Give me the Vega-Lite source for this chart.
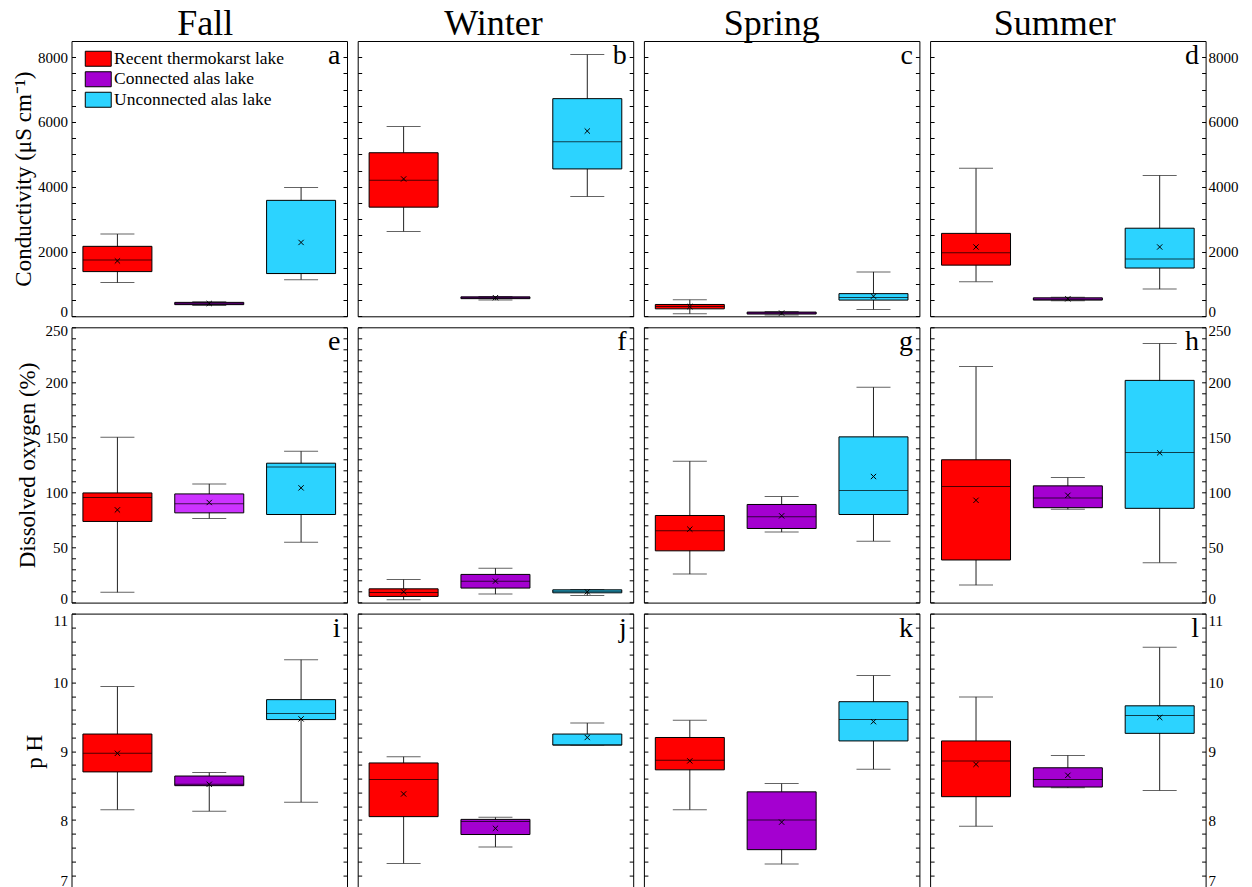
{
  "$schema": "https://vega.github.io/schema/vega-lite/v6.json",
  "padding": {"left": 11.5, "top": 5, "right": 0, "bottom": 0},
  "background": "white",
  "data": {"values": [
    {"s":"Fall","v":"cond","type":"Recent thermokarst lake","min":1040,"q1":1380,"med":1740,"q3":2160,"max":2540,"mean":1710},
    {"s":"Fall","v":"cond","type":"Connected alas lake","min":330,"q1":360,"med":390,"q3":430,"max":450,"mean":395},
    {"s":"Fall","v":"cond","type":"Unconnected alas lake","min":1130,"q1":1320,"med":1320,"q3":3580,"max":3980,"mean":2280},
    {"s":"Winter","v":"cond","type":"Recent thermokarst lake","min":2620,"q1":3370,"med":4200,"q3":5050,"max":5860,"mean":4240},
    {"s":"Winter","v":"cond","type":"Connected alas lake","min":500,"q1":545,"med":570,"q3":600,"max":610,"mean":575},
    {"s":"Winter","v":"cond","type":"Unconnected alas lake","min":3700,"q1":4550,"med":5390,"q3":6720,"max":8080,"mean":5720},
    {"s":"Spring","v":"cond","type":"Recent thermokarst lake","min":75,"q1":230,"med":300,"q3":365,"max":510,"mean":300},
    {"s":"Spring","v":"cond","type":"Connected alas lake","min":40,"q1":70,"med":100,"q3":130,"max":150,"mean":100},
    {"s":"Spring","v":"cond","type":"Unconnected alas lake","min":210,"q1":500,"med":580,"q3":700,"max":1370,"mean":620},
    {"s":"Summer","v":"cond","type":"Recent thermokarst lake","min":1070,"q1":1580,"med":1960,"q3":2560,"max":4570,"mean":2140},
    {"s":"Summer","v":"cond","type":"Connected alas lake","min":480,"q1":500,"med":530,"q3":570,"max":590,"mean":540},
    {"s":"Summer","v":"cond","type":"Unconnected alas lake","min":840,"q1":1490,"med":1770,"q3":2720,"max":4350,"mean":2140},
    {"s":"Fall","v":"do","type":"Recent thermokarst lake","min":9.3,"q1":73.7,"med":95.5,"q3":99.6,"max":150.2,"mean":84.2},
    {"s":"Fall","v":"do","type":"Connected alas lake","min":76.4,"q1":81.5,"med":89.7,"q3":98.7,"max":107.8,"mean":90.9},
    {"s":"Fall","v":"do","type":"Unconnected alas lake","min":54.9,"q1":80,"med":123.2,"q3":126.6,"max":137.5,"mean":104.2},
    {"s":"Winter","v":"do","type":"Recent thermokarst lake","min":2.5,"q1":5.6,"med":9.2,"q3":12.5,"max":21,"mean":9.8},
    {"s":"Winter","v":"do","type":"Connected alas lake","min":7.7,"q1":13.2,"med":19.5,"q3":25.6,"max":31.3,"mean":19.5},
    {"s":"Winter","v":"do","type":"Unconnected alas lake","min":6.5,"q1":8.9,"med":10.3,"q3":11.6,"max":11.8,"mean":9.8},
    {"s":"Spring","v":"do","type":"Recent thermokarst lake","min":25.9,"q1":47,"med":65.2,"q3":79.1,"max":128.4,"mean":66.7},
    {"s":"Spring","v":"do","type":"Connected alas lake","min":64,"q1":67.3,"med":77.9,"q3":89.1,"max":96.4,"mean":78.8},
    {"s":"Spring","v":"do","type":"Unconnected alas lake","min":55.8,"q1":80,"med":101.8,"q3":150.5,"max":195.6,"mean":114.5},
    {"s":"Summer","v":"do","type":"Recent thermokarst lake","min":15.9,"q1":38.7,"med":105.4,"q3":129.7,"max":214.3,"mean":92.9},
    {"s":"Summer","v":"do","type":"Connected alas lake","min":84.7,"q1":86.2,"med":95,"q3":106,"max":113.6,"mean":97.4},
    {"s":"Summer","v":"do","type":"Unconnected alas lake","min":36.3,"q1":85.6,"med":136.4,"q3":201.8,"max":235.3,"mean":136},
    {"s":"Fall","v":"ph","type":"Recent thermokarst lake","min":8.15,"q1":8.7,"med":8.97,"q3":9.25,"max":9.94,"mean":8.97},
    {"s":"Fall","v":"ph","type":"Connected alas lake","min":8.13,"q1":8.5,"med":8.52,"q3":8.64,"max":8.69,"mean":8.52},
    {"s":"Fall","v":"ph","type":"Unconnected alas lake","min":8.26,"q1":9.46,"med":9.55,"q3":9.75,"max":10.33,"mean":9.47},
    {"s":"Winter","v":"ph","type":"Recent thermokarst lake","min":7.37,"q1":8.05,"med":8.59,"q3":8.83,"max":8.92,"mean":8.38},
    {"s":"Winter","v":"ph","type":"Connected alas lake","min":7.61,"q1":7.79,"med":7.98,"q3":8.01,"max":8.04,"mean":7.88},
    {"s":"Winter","v":"ph","type":"Unconnected alas lake","min":9.09,"q1":9.09,"med":9.09,"q3":9.25,"max":9.41,"mean":9.2},
    {"s":"Spring","v":"ph","type":"Recent thermokarst lake","min":8.15,"q1":8.73,"med":8.87,"q3":9.2,"max":9.45,"mean":8.86},
    {"s":"Spring","v":"ph","type":"Connected alas lake","min":7.36,"q1":7.57,"med":8.0,"q3":8.41,"max":8.53,"mean":7.97},
    {"s":"Spring","v":"ph","type":"Unconnected alas lake","min":8.74,"q1":9.15,"med":9.46,"q3":9.72,"max":10.1,"mean":9.43},
    {"s":"Summer","v":"ph","type":"Recent thermokarst lake","min":7.91,"q1":8.34,"med":8.86,"q3":9.15,"max":9.79,"mean":8.81},
    {"s":"Summer","v":"ph","type":"Connected alas lake","min":8.47,"q1":8.48,"med":8.59,"q3":8.76,"max":8.94,"mean":8.65},
    {"s":"Summer","v":"ph","type":"Unconnected alas lake","min":8.43,"q1":9.26,"med":9.52,"q3":9.66,"max":10.51,"mean":9.49}
  ]},
  "columns": 4,
  "bounds": "flush",
  "spacing": {"row": 10.3, "column": 10.2},
  "resolve": {"legend": {"color": "independent"}},
  "concat": [
    {
      "width": 275.5, "height": 275.3,
      "title": {"text": "Fall", "dx": -4},
      "transform": [{"filter": "datum.s === 'Fall' && datum.v === 'cond'"}],
      "encoding": {"x": {"field": "type", "type": "nominal", "scale": {"domain": ["Recent thermokarst lake","Connected alas lake","Unconnected alas lake"], "paddingInner": 0, "paddingOuter": 0}, "axis": null}},
      "resolve": {"axis": {"y": "independent"}},
      "layer": [
        {"mark": {"type": "rule", "color": "#222"}, "encoding": {"y": {"field": "min", "type": "quantitative", "scale": {"domain": [0, 8500], "nice": false, "zero": false}, "axis": {"orient": "left", "values": [0,500,1000,1500,2000,2500,3000,3500,4000,4500,5000,5500,6000,6500,7000,7500,8000], "format": "d", "labelExpr": "datum.value % 2000 === 0 ? datum.label : ''", "title": "Conductivity (μS cm⁻¹)"}}, "y2": {"field": "max"}}},
        {"mark": {"type": "tick", "color": "#222", "size": 34, "thickness": 1}, "encoding": {"y": {"field": "min", "type": "quantitative", "axis": {"orient": "right", "values": [0,500,1000,1500,2000,2500,3000,3500,4000,4500,5000,5500,6000,6500,7000,7500,8000], "labels": false, "title": null}}}},
        {"mark": {"type": "tick", "color": "#222", "size": 34, "thickness": 1}, "encoding": {"y": {"field": "max", "type": "quantitative", "axis": null}}},
        {"mark": {"type": "bar", "size": 69, "stroke": "black", "strokeWidth": 1}, "encoding": {"y": {"field": "q1", "type": "quantitative", "axis": null}, "y2": {"field": "q3"}, "color": {"field": "type", "type": "nominal", "scale": {"domain": ["Recent thermokarst lake","Connected alas lake","Unconnected alas lake"], "range": ["#FF0000","#A400D0","#2CD3FF"]}, "legend": {"title": null, "orient": "none", "legendX": 18, "legendY": 9, "symbolType": "M-1.73,-1H1.73V1H-1.73Z", "symbolSize": 225, "symbolStrokeColor": "black", "symbolStrokeWidth": 1, "symbolOpacity": 1, "labelFont": "Liberation Serif", "labelFontSize": 17.5, "labelColor": "black", "labelOffset": 7, "rowPadding": 0.5, "labelLimit": 300, "padding": 0}}}},
        {"mark": {"type": "tick", "color": "black", "size": 69, "thickness": 1}, "encoding": {"y": {"field": "med", "type": "quantitative", "axis": null}}},
        {"mark": {"type": "point", "shape": "M-1,-1L1,1M-1,1L1,-1", "size": 28, "color": "black", "strokeWidth": 1, "filled": false, "opacity": 1}, "encoding": {"y": {"field": "mean", "type": "quantitative", "axis": null}}},
        {"data": {"values": [{"letter": "a"}]}, "mark": {"type": "text", "font": "Liberation Serif", "fontSize": 28, "align": "right", "baseline": "alphabetic", "dx": -6.5, "dy": 23, "color": "black"}, "encoding": {"x": {"datum": "Unconnected alas lake", "type": "nominal", "bandPosition": 1}, "y": {"datum": 8500, "type": "quantitative", "axis": null}, "text": {"field": "letter"}}}
      ]
    },
    {
      "width": 275.5, "height": 275.3,
      "title": {"text": "Winter", "dx": -2},
      "transform": [{"filter": "datum.s === 'Winter' && datum.v === 'cond'"}],
      "encoding": {"x": {"field": "type", "type": "nominal", "scale": {"domain": ["Recent thermokarst lake","Connected alas lake","Unconnected alas lake"], "paddingInner": 0, "paddingOuter": 0}, "axis": null}},
      "resolve": {"axis": {"y": "independent"}},
      "layer": [
        {"mark": {"type": "rule", "color": "#222"}, "encoding": {"y": {"field": "min", "type": "quantitative", "scale": {"domain": [0, 8500], "nice": false, "zero": false}, "axis": {"orient": "left", "values": [0,500,1000,1500,2000,2500,3000,3500,4000,4500,5000,5500,6000,6500,7000,7500,8000], "labels": false, "title": null}}, "y2": {"field": "max"}}},
        {"mark": {"type": "tick", "color": "#222", "size": 34, "thickness": 1}, "encoding": {"y": {"field": "min", "type": "quantitative", "axis": {"orient": "right", "values": [0,500,1000,1500,2000,2500,3000,3500,4000,4500,5000,5500,6000,6500,7000,7500,8000], "labels": false, "title": null}}}},
        {"mark": {"type": "tick", "color": "#222", "size": 34, "thickness": 1}, "encoding": {"y": {"field": "max", "type": "quantitative", "axis": null}}},
        {"mark": {"type": "bar", "size": 69, "stroke": "black", "strokeWidth": 1}, "encoding": {"y": {"field": "q1", "type": "quantitative", "axis": null}, "y2": {"field": "q3"}, "color": {"field": "type", "type": "nominal", "scale": {"domain": ["Recent thermokarst lake","Connected alas lake","Unconnected alas lake"], "range": ["#FF0000","#A400D0","#2CD3FF"]}, "legend": null}}},
        {"mark": {"type": "tick", "color": "black", "size": 69, "thickness": 1}, "encoding": {"y": {"field": "med", "type": "quantitative", "axis": null}}},
        {"mark": {"type": "point", "shape": "M-1,-1L1,1M-1,1L1,-1", "size": 28, "color": "black", "strokeWidth": 1, "filled": false, "opacity": 1}, "encoding": {"y": {"field": "mean", "type": "quantitative", "axis": null}}},
        {"data": {"values": [{"letter": "b"}]}, "mark": {"type": "text", "font": "Liberation Serif", "fontSize": 28, "align": "right", "baseline": "alphabetic", "dx": -6.5, "dy": 23, "color": "black"}, "encoding": {"x": {"datum": "Unconnected alas lake", "type": "nominal", "bandPosition": 1}, "y": {"datum": 8500, "type": "quantitative", "axis": null}, "text": {"field": "letter"}}}
      ]
    },
    {
      "width": 275.5, "height": 275.3,
      "title": {"text": "Spring", "dx": -10},
      "transform": [{"filter": "datum.s === 'Spring' && datum.v === 'cond'"}],
      "encoding": {"x": {"field": "type", "type": "nominal", "scale": {"domain": ["Recent thermokarst lake","Connected alas lake","Unconnected alas lake"], "paddingInner": 0, "paddingOuter": 0}, "axis": null}},
      "resolve": {"axis": {"y": "independent"}},
      "layer": [
        {"mark": {"type": "rule", "color": "#222"}, "encoding": {"y": {"field": "min", "type": "quantitative", "scale": {"domain": [0, 8500], "nice": false, "zero": false}, "axis": {"orient": "left", "values": [0,500,1000,1500,2000,2500,3000,3500,4000,4500,5000,5500,6000,6500,7000,7500,8000], "labels": false, "title": null}}, "y2": {"field": "max"}}},
        {"mark": {"type": "tick", "color": "#222", "size": 34, "thickness": 1}, "encoding": {"y": {"field": "min", "type": "quantitative", "axis": {"orient": "right", "values": [0,500,1000,1500,2000,2500,3000,3500,4000,4500,5000,5500,6000,6500,7000,7500,8000], "labels": false, "title": null}}}},
        {"mark": {"type": "tick", "color": "#222", "size": 34, "thickness": 1}, "encoding": {"y": {"field": "max", "type": "quantitative", "axis": null}}},
        {"mark": {"type": "bar", "size": 69, "stroke": "black", "strokeWidth": 1}, "encoding": {"y": {"field": "q1", "type": "quantitative", "axis": null}, "y2": {"field": "q3"}, "color": {"field": "type", "type": "nominal", "scale": {"domain": ["Recent thermokarst lake","Connected alas lake","Unconnected alas lake"], "range": ["#FF0000","#A400D0","#2CD3FF"]}, "legend": null}}},
        {"mark": {"type": "tick", "color": "black", "size": 69, "thickness": 1}, "encoding": {"y": {"field": "med", "type": "quantitative", "axis": null}}},
        {"mark": {"type": "point", "shape": "M-1,-1L1,1M-1,1L1,-1", "size": 28, "color": "black", "strokeWidth": 1, "filled": false, "opacity": 1}, "encoding": {"y": {"field": "mean", "type": "quantitative", "axis": null}}},
        {"data": {"values": [{"letter": "c"}]}, "mark": {"type": "text", "font": "Liberation Serif", "fontSize": 28, "align": "right", "baseline": "alphabetic", "dx": -6.5, "dy": 23, "color": "black"}, "encoding": {"x": {"datum": "Unconnected alas lake", "type": "nominal", "bandPosition": 1}, "y": {"datum": 8500, "type": "quantitative", "axis": null}, "text": {"field": "letter"}}}
      ]
    },
    {
      "width": 275.5, "height": 275.3,
      "title": {"text": "Summer", "dx": -13},
      "transform": [{"filter": "datum.s === 'Summer' && datum.v === 'cond'"}],
      "encoding": {"x": {"field": "type", "type": "nominal", "scale": {"domain": ["Recent thermokarst lake","Connected alas lake","Unconnected alas lake"], "paddingInner": 0, "paddingOuter": 0}, "axis": null}},
      "resolve": {"axis": {"y": "independent"}},
      "layer": [
        {"mark": {"type": "rule", "color": "#222"}, "encoding": {"y": {"field": "min", "type": "quantitative", "scale": {"domain": [0, 8500], "nice": false, "zero": false}, "axis": {"orient": "left", "values": [0,500,1000,1500,2000,2500,3000,3500,4000,4500,5000,5500,6000,6500,7000,7500,8000], "labels": false, "title": null}}, "y2": {"field": "max"}}},
        {"mark": {"type": "tick", "color": "#222", "size": 34, "thickness": 1}, "encoding": {"y": {"field": "min", "type": "quantitative", "axis": {"orient": "right", "values": [0,500,1000,1500,2000,2500,3000,3500,4000,4500,5000,5500,6000,6500,7000,7500,8000], "format": "d", "labelExpr": "datum.value % 2000 === 0 ? datum.label : ''", "labelPadding": 6.5, "title": null}}}},
        {"mark": {"type": "tick", "color": "#222", "size": 34, "thickness": 1}, "encoding": {"y": {"field": "max", "type": "quantitative", "axis": null}}},
        {"mark": {"type": "bar", "size": 69, "stroke": "black", "strokeWidth": 1}, "encoding": {"y": {"field": "q1", "type": "quantitative", "axis": null}, "y2": {"field": "q3"}, "color": {"field": "type", "type": "nominal", "scale": {"domain": ["Recent thermokarst lake","Connected alas lake","Unconnected alas lake"], "range": ["#FF0000","#A400D0","#2CD3FF"]}, "legend": null}}},
        {"mark": {"type": "tick", "color": "black", "size": 69, "thickness": 1}, "encoding": {"y": {"field": "med", "type": "quantitative", "axis": null}}},
        {"mark": {"type": "point", "shape": "M-1,-1L1,1M-1,1L1,-1", "size": 28, "color": "black", "strokeWidth": 1, "filled": false, "opacity": 1}, "encoding": {"y": {"field": "mean", "type": "quantitative", "axis": null}}},
        {"data": {"values": [{"letter": "d"}]}, "mark": {"type": "text", "font": "Liberation Serif", "fontSize": 28, "align": "right", "baseline": "alphabetic", "dx": -6.5, "dy": 23, "color": "black"}, "encoding": {"x": {"datum": "Unconnected alas lake", "type": "nominal", "bandPosition": 1}, "y": {"datum": 8500, "type": "quantitative", "axis": null}, "text": {"field": "letter"}}}
      ]
    },
    {
      "width": 275.5, "height": 275.3,
      "transform": [{"filter": "datum.s === 'Fall' && datum.v === 'do'"}],
      "encoding": {"x": {"field": "type", "type": "nominal", "scale": {"domain": ["Recent thermokarst lake","Connected alas lake","Unconnected alas lake"], "paddingInner": 0, "paddingOuter": 0}, "axis": null}},
      "resolve": {"axis": {"y": "independent"}},
      "layer": [
        {"mark": {"type": "rule", "color": "#222"}, "encoding": {"y": {"field": "min", "type": "quantitative", "scale": {"domain": [0, 250], "nice": false, "zero": false}, "axis": {"orient": "left", "values": [0,10,20,30,40,50,60,70,80,90,100,110,120,130,140,150,160,170,180,190,200,210,220,230,240,250], "format": "d", "labelExpr": "datum.value % 50 === 0 ? datum.label : ''", "title": "Dissolved oxygen (%)", "titlePadding": 6}}, "y2": {"field": "max"}}},
        {"mark": {"type": "tick", "color": "#222", "size": 34, "thickness": 1}, "encoding": {"y": {"field": "min", "type": "quantitative", "axis": {"orient": "right", "values": [0,10,20,30,40,50,60,70,80,90,100,110,120,130,140,150,160,170,180,190,200,210,220,230,240,250], "labels": false, "title": null}}}},
        {"mark": {"type": "tick", "color": "#222", "size": 34, "thickness": 1}, "encoding": {"y": {"field": "max", "type": "quantitative", "axis": null}}},
        {"mark": {"type": "bar", "size": 69, "stroke": "black", "strokeWidth": 1}, "encoding": {"y": {"field": "q1", "type": "quantitative", "axis": null}, "y2": {"field": "q3"}, "color": {"condition": {"test": "datum.type === 'Connected alas lake'", "value": "#CC33FF"}, "field": "type", "type": "nominal", "scale": {"domain": ["Recent thermokarst lake","Connected alas lake","Unconnected alas lake"], "range": ["#FF0000","#A400D0","#2CD3FF"]}, "legend": null}}},
        {"mark": {"type": "tick", "color": "black", "size": 69, "thickness": 1}, "encoding": {"y": {"field": "med", "type": "quantitative", "axis": null}}},
        {"mark": {"type": "point", "shape": "M-1,-1L1,1M-1,1L1,-1", "size": 28, "color": "black", "strokeWidth": 1, "filled": false, "opacity": 1}, "encoding": {"y": {"field": "mean", "type": "quantitative", "axis": null}}},
        {"data": {"values": [{"letter": "e"}]}, "mark": {"type": "text", "font": "Liberation Serif", "fontSize": 28, "align": "right", "baseline": "alphabetic", "dx": -6.5, "dy": 23, "color": "black"}, "encoding": {"x": {"datum": "Unconnected alas lake", "type": "nominal", "bandPosition": 1}, "y": {"datum": 250, "type": "quantitative", "axis": null}, "text": {"field": "letter"}}}
      ]
    },
    {
      "width": 275.5, "height": 275.3,
      "transform": [{"filter": "datum.s === 'Winter' && datum.v === 'do'"}],
      "encoding": {"x": {"field": "type", "type": "nominal", "scale": {"domain": ["Recent thermokarst lake","Connected alas lake","Unconnected alas lake"], "paddingInner": 0, "paddingOuter": 0}, "axis": null}},
      "resolve": {"axis": {"y": "independent"}},
      "layer": [
        {"mark": {"type": "rule", "color": "#222"}, "encoding": {"y": {"field": "min", "type": "quantitative", "scale": {"domain": [0, 250], "nice": false, "zero": false}, "axis": {"orient": "left", "values": [0,10,20,30,40,50,60,70,80,90,100,110,120,130,140,150,160,170,180,190,200,210,220,230,240,250], "labels": false, "title": null}}, "y2": {"field": "max"}}},
        {"mark": {"type": "tick", "color": "#222", "size": 34, "thickness": 1}, "encoding": {"y": {"field": "min", "type": "quantitative", "axis": {"orient": "right", "values": [0,10,20,30,40,50,60,70,80,90,100,110,120,130,140,150,160,170,180,190,200,210,220,230,240,250], "labels": false, "title": null}}}},
        {"mark": {"type": "tick", "color": "#222", "size": 34, "thickness": 1}, "encoding": {"y": {"field": "max", "type": "quantitative", "axis": null}}},
        {"mark": {"type": "bar", "size": 69, "stroke": "black", "strokeWidth": 1}, "encoding": {"y": {"field": "q1", "type": "quantitative", "axis": null}, "y2": {"field": "q3"}, "color": {"field": "type", "type": "nominal", "scale": {"domain": ["Recent thermokarst lake","Connected alas lake","Unconnected alas lake"], "range": ["#FF0000","#A400D0","#2CD3FF"]}, "legend": null}}},
        {"mark": {"type": "tick", "color": "black", "size": 69, "thickness": 1}, "encoding": {"y": {"field": "med", "type": "quantitative", "axis": null}}},
        {"mark": {"type": "point", "shape": "M-1,-1L1,1M-1,1L1,-1", "size": 28, "color": "black", "strokeWidth": 1, "filled": false, "opacity": 1}, "encoding": {"y": {"field": "mean", "type": "quantitative", "axis": null}}},
        {"data": {"values": [{"letter": "f"}]}, "mark": {"type": "text", "font": "Liberation Serif", "fontSize": 28, "align": "right", "baseline": "alphabetic", "dx": -6.5, "dy": 23, "color": "black"}, "encoding": {"x": {"datum": "Unconnected alas lake", "type": "nominal", "bandPosition": 1}, "y": {"datum": 250, "type": "quantitative", "axis": null}, "text": {"field": "letter"}}}
      ]
    },
    {
      "width": 275.5, "height": 275.3,
      "transform": [{"filter": "datum.s === 'Spring' && datum.v === 'do'"}],
      "encoding": {"x": {"field": "type", "type": "nominal", "scale": {"domain": ["Recent thermokarst lake","Connected alas lake","Unconnected alas lake"], "paddingInner": 0, "paddingOuter": 0}, "axis": null}},
      "resolve": {"axis": {"y": "independent"}},
      "layer": [
        {"mark": {"type": "rule", "color": "#222"}, "encoding": {"y": {"field": "min", "type": "quantitative", "scale": {"domain": [0, 250], "nice": false, "zero": false}, "axis": {"orient": "left", "values": [0,10,20,30,40,50,60,70,80,90,100,110,120,130,140,150,160,170,180,190,200,210,220,230,240,250], "labels": false, "title": null}}, "y2": {"field": "max"}}},
        {"mark": {"type": "tick", "color": "#222", "size": 34, "thickness": 1}, "encoding": {"y": {"field": "min", "type": "quantitative", "axis": {"orient": "right", "values": [0,10,20,30,40,50,60,70,80,90,100,110,120,130,140,150,160,170,180,190,200,210,220,230,240,250], "labels": false, "title": null}}}},
        {"mark": {"type": "tick", "color": "#222", "size": 34, "thickness": 1}, "encoding": {"y": {"field": "max", "type": "quantitative", "axis": null}}},
        {"mark": {"type": "bar", "size": 69, "stroke": "black", "strokeWidth": 1}, "encoding": {"y": {"field": "q1", "type": "quantitative", "axis": null}, "y2": {"field": "q3"}, "color": {"field": "type", "type": "nominal", "scale": {"domain": ["Recent thermokarst lake","Connected alas lake","Unconnected alas lake"], "range": ["#FF0000","#A400D0","#2CD3FF"]}, "legend": null}}},
        {"mark": {"type": "tick", "color": "black", "size": 69, "thickness": 1}, "encoding": {"y": {"field": "med", "type": "quantitative", "axis": null}}},
        {"mark": {"type": "point", "shape": "M-1,-1L1,1M-1,1L1,-1", "size": 28, "color": "black", "strokeWidth": 1, "filled": false, "opacity": 1}, "encoding": {"y": {"field": "mean", "type": "quantitative", "axis": null}}},
        {"data": {"values": [{"letter": "g"}]}, "mark": {"type": "text", "font": "Liberation Serif", "fontSize": 28, "align": "right", "baseline": "alphabetic", "dx": -6.5, "dy": 23, "color": "black"}, "encoding": {"x": {"datum": "Unconnected alas lake", "type": "nominal", "bandPosition": 1}, "y": {"datum": 250, "type": "quantitative", "axis": null}, "text": {"field": "letter"}}}
      ]
    },
    {
      "width": 275.5, "height": 275.3,
      "transform": [{"filter": "datum.s === 'Summer' && datum.v === 'do'"}],
      "encoding": {"x": {"field": "type", "type": "nominal", "scale": {"domain": ["Recent thermokarst lake","Connected alas lake","Unconnected alas lake"], "paddingInner": 0, "paddingOuter": 0}, "axis": null}},
      "resolve": {"axis": {"y": "independent"}},
      "layer": [
        {"mark": {"type": "rule", "color": "#222"}, "encoding": {"y": {"field": "min", "type": "quantitative", "scale": {"domain": [0, 250], "nice": false, "zero": false}, "axis": {"orient": "left", "values": [0,10,20,30,40,50,60,70,80,90,100,110,120,130,140,150,160,170,180,190,200,210,220,230,240,250], "labels": false, "title": null}}, "y2": {"field": "max"}}},
        {"mark": {"type": "tick", "color": "#222", "size": 34, "thickness": 1}, "encoding": {"y": {"field": "min", "type": "quantitative", "axis": {"orient": "right", "values": [0,10,20,30,40,50,60,70,80,90,100,110,120,130,140,150,160,170,180,190,200,210,220,230,240,250], "format": "d", "labelExpr": "datum.value % 50 === 0 ? datum.label : ''", "labelPadding": 6.5, "title": null}}}},
        {"mark": {"type": "tick", "color": "#222", "size": 34, "thickness": 1}, "encoding": {"y": {"field": "max", "type": "quantitative", "axis": null}}},
        {"mark": {"type": "bar", "size": 69, "stroke": "black", "strokeWidth": 1}, "encoding": {"y": {"field": "q1", "type": "quantitative", "axis": null}, "y2": {"field": "q3"}, "color": {"field": "type", "type": "nominal", "scale": {"domain": ["Recent thermokarst lake","Connected alas lake","Unconnected alas lake"], "range": ["#FF0000","#A400D0","#2CD3FF"]}, "legend": null}}},
        {"mark": {"type": "tick", "color": "black", "size": 69, "thickness": 1}, "encoding": {"y": {"field": "med", "type": "quantitative", "axis": null}}},
        {"mark": {"type": "point", "shape": "M-1,-1L1,1M-1,1L1,-1", "size": 28, "color": "black", "strokeWidth": 1, "filled": false, "opacity": 1}, "encoding": {"y": {"field": "mean", "type": "quantitative", "axis": null}}},
        {"data": {"values": [{"letter": "h"}]}, "mark": {"type": "text", "font": "Liberation Serif", "fontSize": 28, "align": "right", "baseline": "alphabetic", "dx": -6.5, "dy": 23, "color": "black"}, "encoding": {"x": {"datum": "Unconnected alas lake", "type": "nominal", "bandPosition": 1}, "y": {"datum": 250, "type": "quantitative", "axis": null}, "text": {"field": "letter"}}}
      ]
    },
    {
      "width": 275.5, "height": 275.3,
      "transform": [{"filter": "datum.s === 'Fall' && datum.v === 'ph'"}],
      "encoding": {"x": {"field": "type", "type": "nominal", "scale": {"domain": ["Recent thermokarst lake","Connected alas lake","Unconnected alas lake"], "paddingInner": 0, "paddingOuter": 0}, "axis": null}},
      "resolve": {"axis": {"y": "independent"}},
      "layer": [
        {"mark": {"type": "rule", "color": "#222"}, "encoding": {"y": {"field": "min", "type": "quantitative", "scale": {"domain": [7, 11], "nice": false, "zero": false}, "axis": {"orient": "left", "values": [7,7.2,7.4,7.6,7.8,8,8.2,8.4,8.6,8.8,9,9.2,9.4,9.6,9.8,10,10.2,10.4,10.6,10.8,11], "labelExpr": "abs(datum.value - round(datum.value)) < 0.01 ? format(datum.value, 'd') : ''", "labelFlushOffset": 0, "title": "p H", "titlePadding": 6}}, "y2": {"field": "max"}}},
        {"mark": {"type": "tick", "color": "#222", "size": 34, "thickness": 1}, "encoding": {"y": {"field": "min", "type": "quantitative", "axis": {"orient": "right", "values": [7,7.2,7.4,7.6,7.8,8,8.2,8.4,8.6,8.8,9,9.2,9.4,9.6,9.8,10,10.2,10.4,10.6,10.8,11], "labels": false, "title": null}}}},
        {"mark": {"type": "tick", "color": "#222", "size": 34, "thickness": 1}, "encoding": {"y": {"field": "max", "type": "quantitative", "axis": null}}},
        {"mark": {"type": "bar", "size": 69, "stroke": "black", "strokeWidth": 1}, "encoding": {"y": {"field": "q1", "type": "quantitative", "axis": null}, "y2": {"field": "q3"}, "color": {"field": "type", "type": "nominal", "scale": {"domain": ["Recent thermokarst lake","Connected alas lake","Unconnected alas lake"], "range": ["#FF0000","#A400D0","#2CD3FF"]}, "legend": null}}},
        {"mark": {"type": "tick", "color": "black", "size": 69, "thickness": 1}, "encoding": {"y": {"field": "med", "type": "quantitative", "axis": null}}},
        {"mark": {"type": "point", "shape": "M-1,-1L1,1M-1,1L1,-1", "size": 28, "color": "black", "strokeWidth": 1, "filled": false, "opacity": 1}, "encoding": {"y": {"field": "mean", "type": "quantitative", "axis": null}}},
        {"data": {"values": [{"letter": "i"}]}, "mark": {"type": "text", "font": "Liberation Serif", "fontSize": 28, "align": "right", "baseline": "alphabetic", "dx": -6.5, "dy": 23, "color": "black"}, "encoding": {"x": {"datum": "Unconnected alas lake", "type": "nominal", "bandPosition": 1}, "y": {"datum": 11, "type": "quantitative", "axis": null}, "text": {"field": "letter"}}}
      ]
    },
    {
      "width": 275.5, "height": 275.3,
      "transform": [{"filter": "datum.s === 'Winter' && datum.v === 'ph'"}],
      "encoding": {"x": {"field": "type", "type": "nominal", "scale": {"domain": ["Recent thermokarst lake","Connected alas lake","Unconnected alas lake"], "paddingInner": 0, "paddingOuter": 0}, "axis": null}},
      "resolve": {"axis": {"y": "independent"}},
      "layer": [
        {"mark": {"type": "rule", "color": "#222"}, "encoding": {"y": {"field": "min", "type": "quantitative", "scale": {"domain": [7, 11], "nice": false, "zero": false}, "axis": {"orient": "left", "values": [7,7.2,7.4,7.6,7.8,8,8.2,8.4,8.6,8.8,9,9.2,9.4,9.6,9.8,10,10.2,10.4,10.6,10.8,11], "labels": false, "title": null}}, "y2": {"field": "max"}}},
        {"mark": {"type": "tick", "color": "#222", "size": 34, "thickness": 1}, "encoding": {"y": {"field": "min", "type": "quantitative", "axis": {"orient": "right", "values": [7,7.2,7.4,7.6,7.8,8,8.2,8.4,8.6,8.8,9,9.2,9.4,9.6,9.8,10,10.2,10.4,10.6,10.8,11], "labels": false, "title": null}}}},
        {"mark": {"type": "tick", "color": "#222", "size": 34, "thickness": 1}, "encoding": {"y": {"field": "max", "type": "quantitative", "axis": null}}},
        {"mark": {"type": "bar", "size": 69, "stroke": "black", "strokeWidth": 1}, "encoding": {"y": {"field": "q1", "type": "quantitative", "axis": null}, "y2": {"field": "q3"}, "color": {"field": "type", "type": "nominal", "scale": {"domain": ["Recent thermokarst lake","Connected alas lake","Unconnected alas lake"], "range": ["#FF0000","#A400D0","#2CD3FF"]}, "legend": null}}},
        {"mark": {"type": "tick", "color": "black", "size": 69, "thickness": 1}, "encoding": {"y": {"field": "med", "type": "quantitative", "axis": null}}},
        {"mark": {"type": "point", "shape": "M-1,-1L1,1M-1,1L1,-1", "size": 28, "color": "black", "strokeWidth": 1, "filled": false, "opacity": 1}, "encoding": {"y": {"field": "mean", "type": "quantitative", "axis": null}}},
        {"data": {"values": [{"letter": "j"}]}, "mark": {"type": "text", "font": "Liberation Serif", "fontSize": 28, "align": "right", "baseline": "alphabetic", "dx": -6.5, "dy": 23, "color": "black"}, "encoding": {"x": {"datum": "Unconnected alas lake", "type": "nominal", "bandPosition": 1}, "y": {"datum": 11, "type": "quantitative", "axis": null}, "text": {"field": "letter"}}}
      ]
    },
    {
      "width": 275.5, "height": 275.3,
      "transform": [{"filter": "datum.s === 'Spring' && datum.v === 'ph'"}],
      "encoding": {"x": {"field": "type", "type": "nominal", "scale": {"domain": ["Recent thermokarst lake","Connected alas lake","Unconnected alas lake"], "paddingInner": 0, "paddingOuter": 0}, "axis": null}},
      "resolve": {"axis": {"y": "independent"}},
      "layer": [
        {"mark": {"type": "rule", "color": "#222"}, "encoding": {"y": {"field": "min", "type": "quantitative", "scale": {"domain": [7, 11], "nice": false, "zero": false}, "axis": {"orient": "left", "values": [7,7.2,7.4,7.6,7.8,8,8.2,8.4,8.6,8.8,9,9.2,9.4,9.6,9.8,10,10.2,10.4,10.6,10.8,11], "labels": false, "title": null}}, "y2": {"field": "max"}}},
        {"mark": {"type": "tick", "color": "#222", "size": 34, "thickness": 1}, "encoding": {"y": {"field": "min", "type": "quantitative", "axis": {"orient": "right", "values": [7,7.2,7.4,7.6,7.8,8,8.2,8.4,8.6,8.8,9,9.2,9.4,9.6,9.8,10,10.2,10.4,10.6,10.8,11], "labels": false, "title": null}}}},
        {"mark": {"type": "tick", "color": "#222", "size": 34, "thickness": 1}, "encoding": {"y": {"field": "max", "type": "quantitative", "axis": null}}},
        {"mark": {"type": "bar", "size": 69, "stroke": "black", "strokeWidth": 1}, "encoding": {"y": {"field": "q1", "type": "quantitative", "axis": null}, "y2": {"field": "q3"}, "color": {"field": "type", "type": "nominal", "scale": {"domain": ["Recent thermokarst lake","Connected alas lake","Unconnected alas lake"], "range": ["#FF0000","#A400D0","#2CD3FF"]}, "legend": null}}},
        {"mark": {"type": "tick", "color": "black", "size": 69, "thickness": 1}, "encoding": {"y": {"field": "med", "type": "quantitative", "axis": null}}},
        {"mark": {"type": "point", "shape": "M-1,-1L1,1M-1,1L1,-1", "size": 28, "color": "black", "strokeWidth": 1, "filled": false, "opacity": 1}, "encoding": {"y": {"field": "mean", "type": "quantitative", "axis": null}}},
        {"data": {"values": [{"letter": "k"}]}, "mark": {"type": "text", "font": "Liberation Serif", "fontSize": 28, "align": "right", "baseline": "alphabetic", "dx": -6.5, "dy": 23, "color": "black"}, "encoding": {"x": {"datum": "Unconnected alas lake", "type": "nominal", "bandPosition": 1}, "y": {"datum": 11, "type": "quantitative", "axis": null}, "text": {"field": "letter"}}}
      ]
    },
    {
      "width": 275.5, "height": 275.3,
      "transform": [{"filter": "datum.s === 'Summer' && datum.v === 'ph'"}],
      "encoding": {"x": {"field": "type", "type": "nominal", "scale": {"domain": ["Recent thermokarst lake","Connected alas lake","Unconnected alas lake"], "paddingInner": 0, "paddingOuter": 0}, "axis": null}},
      "resolve": {"axis": {"y": "independent"}},
      "layer": [
        {"mark": {"type": "rule", "color": "#222"}, "encoding": {"y": {"field": "min", "type": "quantitative", "scale": {"domain": [7, 11], "nice": false, "zero": false}, "axis": {"orient": "left", "values": [7,7.2,7.4,7.6,7.8,8,8.2,8.4,8.6,8.8,9,9.2,9.4,9.6,9.8,10,10.2,10.4,10.6,10.8,11], "labels": false, "title": null}}, "y2": {"field": "max"}}},
        {"mark": {"type": "tick", "color": "#222", "size": 34, "thickness": 1}, "encoding": {"y": {"field": "min", "type": "quantitative", "axis": {"orient": "right", "values": [7,7.2,7.4,7.6,7.8,8,8.2,8.4,8.6,8.8,9,9.2,9.4,9.6,9.8,10,10.2,10.4,10.6,10.8,11], "labelExpr": "abs(datum.value - round(datum.value)) < 0.01 ? format(datum.value, 'd') : ''", "labelFlushOffset": 0, "labelPadding": 6.5, "title": null}}}},
        {"mark": {"type": "tick", "color": "#222", "size": 34, "thickness": 1}, "encoding": {"y": {"field": "max", "type": "quantitative", "axis": null}}},
        {"mark": {"type": "bar", "size": 69, "stroke": "black", "strokeWidth": 1}, "encoding": {"y": {"field": "q1", "type": "quantitative", "axis": null}, "y2": {"field": "q3"}, "color": {"field": "type", "type": "nominal", "scale": {"domain": ["Recent thermokarst lake","Connected alas lake","Unconnected alas lake"], "range": ["#FF0000","#A400D0","#2CD3FF"]}, "legend": null}}},
        {"mark": {"type": "tick", "color": "black", "size": 69, "thickness": 1}, "encoding": {"y": {"field": "med", "type": "quantitative", "axis": null}}},
        {"mark": {"type": "point", "shape": "M-1,-1L1,1M-1,1L1,-1", "size": 28, "color": "black", "strokeWidth": 1, "filled": false, "opacity": 1}, "encoding": {"y": {"field": "mean", "type": "quantitative", "axis": null}}},
        {"data": {"values": [{"letter": "l"}]}, "mark": {"type": "text", "font": "Liberation Serif", "fontSize": 28, "align": "right", "baseline": "alphabetic", "dx": -6.5, "dy": 23, "color": "black"}, "encoding": {"x": {"datum": "Unconnected alas lake", "type": "nominal", "bandPosition": 1}, "y": {"datum": 11, "type": "quantitative", "axis": null}, "text": {"field": "letter"}}}
      ]
    }
  ],
  "config": {
    "view": {"stroke": "black", "strokeWidth": 1},
    "axis": {"domain": false, "grid": false, "ticks": true, "tickSize": -4, "tickColor": "black", "tickWidth": 1, "labelPadding": 8, "labelFont": "Liberation Serif", "labelFontSize": 15, "labelColor": "black", "labelOverlap": false, "labelFlush": true, "labelFlushOffset": 3.5, "titleFont": "Liberation Serif", "titleFontSize": 23, "titleFontWeight": "normal", "titleColor": "black", "titlePadding": 2},
    "title": {"font": "Liberation Serif", "fontSize": 36, "fontWeight": "normal", "color": "black", "offset": -2, "baseline": "alphabetic", "anchor": "middle"},
    "text": {"font": "Liberation Serif"}
  }
}
